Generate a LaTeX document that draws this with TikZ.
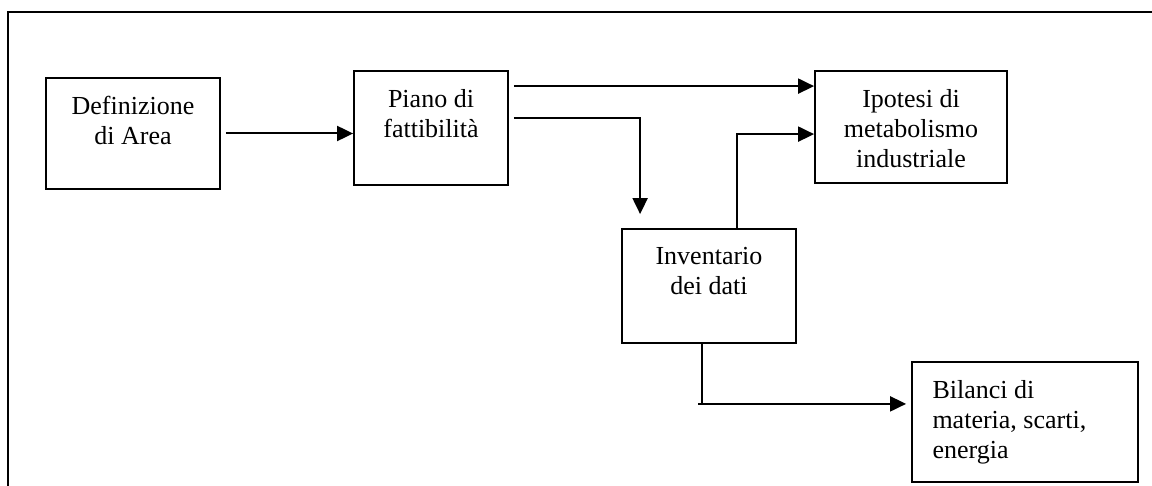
\documentclass[tikz,border=0pt]{standalone}
\usepackage{fontspec}
\setmainfont{Liberation Serif}
\usetikzlibrary{arrows.meta, positioning, calc}

\begin{document}
\begin{tikzpicture}[
    x=0.5pt, y=-0.5pt,
    box/.style={rectangle, draw=black, line width=0.9pt, inner sep=0pt},
    txt/.style={inner sep=0pt, font=\fontsize{13}{15}\selectfont, align=center, anchor=north},
    arr/.style={-{Triangle[length=8pt, width=7.5pt]}, line width=1pt},
    line/.style={line width=1pt}
]
\useasboundingbox (0,0) rectangle (1152,486);
\draw[line width=1pt] (7.5,486) -- (7.5,12.5) -- (1152,12.5);

\node[box, minimum width=87pt, minimum height=55.5pt] (def)   at (133,133.5) {};
\node[box, minimum width=77pt, minimum height=57pt]   (piano) at (431,128)   {};
\node[box, minimum width=96pt, minimum height=56pt]   (ipo)   at (911,127)   {};
\node[box, minimum width=87pt, minimum height=57pt]   (inv)   at (709,286)   {};
\node[box, minimum width=113pt, minimum height=60pt]  (bil)   at (1025,422)  {};

\node[txt] (tdef)   at ($(def.north)+(0,19)$)   {Definizione\\di Area};
\node[txt] (tpiano) at ($(piano.north)+(0,19)$) {Piano di\\fattibilità};
\node[txt] (tipo)   at ($(ipo.north)+(0,19)$)   {Ipotesi di\\metabolismo\\industriale};
\node[txt] (tinv)   at ($(inv.north)+(0,19)$)   {Inventario\\dei dati};
\node[txt, anchor=north west, align=left] (tbil) at ($(bil.north west)+(21,19)$) {Bilanci di\\materia, scarti,\\energia};

\coordinate (turn) at ($(inv.south west)+(81,60)$);

\draw[arr] ($(def.east)+(5,0)$) -- ($(def.east -| piano.west)$);
\draw[arr] ($(piano.north east)+(5,16)$) -- ($(ipo.north west)+(0,16)$);
\draw[arr] ($(piano.north east)+(5,48)$) -| ($(inv.north west)+(19,-14)$);
\draw[arr] ($(inv.north west)+(116,0)$) |- ($(ipo.north west)+(0,64)$);
\draw[line] (inv.south -| turn) -- (turn);
\draw[arr] ($(turn)+(-4,0)$) -- ($(turn -| bil.west)+(-5,0)$);
\end{tikzpicture}
\end{document}
